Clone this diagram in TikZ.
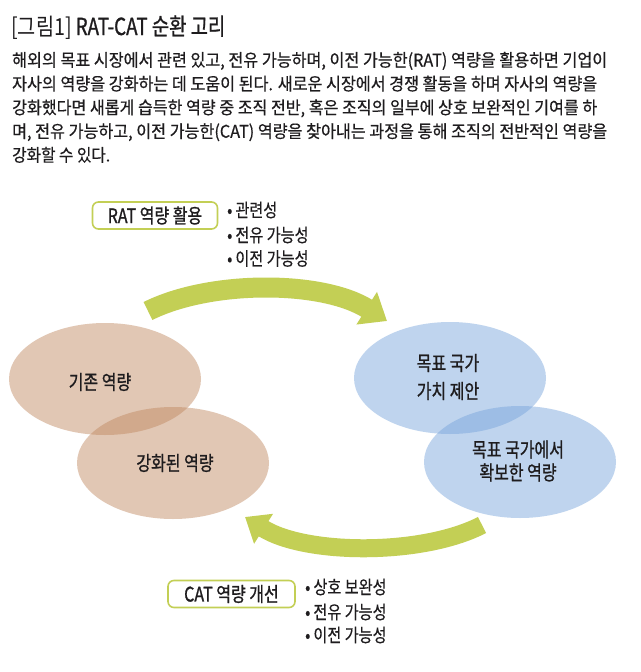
\documentclass[tikz,border=0pt]{standalone}
\usepackage{fontspec}
\usepackage{graphicx}
\usetikzlibrary{arrows.meta,shapes.geometric}
\newfontfamily\kr[FakeStretch=0.84]{Noto Sans CJK KR}
\newfontfamily\krb[FakeStretch=0.84,FakeBold=0.5]{Noto Sans CJK KR}
\newfontfamily\krm[FakeStretch=0.8,FakeBold=1]{Noto Sans CJK KR}
\newfontfamily\krl[FakeStretch=0.82,FakeBold=0.3]{Noto Sans CJK KR}
\newcommand{\fitln}[2]{\resizebox{#1}{\height}{#2}}
\definecolor{tanc}{RGB}{192,136,96}
\definecolor{skyc}{RGB}{120,165,220}
\definecolor{leaf}{RGB}{195,207,85}
\definecolor{ink}{RGB}{30,28,30}
\begin{document}
\begin{tikzpicture}[x=1pt,y=-1pt,
  bodyline/.style={anchor=base west, inner sep=0pt, font=\krb\fontsize{17.5}{18}\selectfont, text=ink},
  blob/.style={ellipse, draw=none, inner sep=0pt, minimum width=192pt, minimum height=112pt, fill opacity=0.47},
  blabel/.style={inner sep=0pt, align=center, text=ink, font=\krm\fontsize{20}{28}\selectfont},
  tagbox/.style={draw=leaf, line width=1.6pt, rounded corners=6pt, fill=white, inner sep=0pt,
    minimum height=27pt, text=ink, font=\krm\fontsize{20}{20}\selectfont},
  bullet/.style={anchor=west, inner sep=0pt, text=ink, font=\krl\fontsize{18.5}{20}\selectfont},
  bigarrow/.style={draw=leaf}
]
\useasboundingbox (0,0) rectangle (640,672);
\fill[white] (0,0) rectangle (640,672);

% title
\node[anchor=base west, inner sep=0pt, text=ink] (title) at (11,35)
  {\fontsize{23.5}{26}\selectfont{\kr [그림1]}\,{\krm RAT-CAT 순환 고리}};

% body text
\node[bodyline] (l1) at (12,66.5) {\fitln{595pt}{해외의 목표 시장에서 관련 있고, 전유 가능하며, 이전 가능한(RAT) 역량을 활용하면 기업이}};
\node[bodyline] (l2) at (12,90.25) {\fitln{585pt}{자사의 역량을 강화하는 데 도움이 된다. 새로운 시장에서 경쟁 활동을 하며 자사의 역량을}};
\node[bodyline] (l3) at (12,114) {\fitln{585pt}{강화했다면 새롭게 습득한 역량 중 조직 전반, 혹은 조직의 일부에 상호 보완적인 기여를 하}};
\node[bodyline] (l4) at (12,137.75) {\fitln{595pt}{며, 전유 가능하고, 이전 가능한(CAT) 역량을 찾아내는 과정을 통해 조직의 전반적인 역량을}};
\node[bodyline] (l5) at (12,161.5) {\fitln{98pt}{강화할 수 있다.}};

% ellipses
\node[blob, fill=tanc] (e1) at (105,379) {};
\node[blob, fill=tanc] (e2) at (173,463) {};
\node[blob, fill=skyc] (e3) at (450,378) {};
\node[blob, fill=skyc] (e4) at (520,462) {};

\node[blabel] (t1) at (100,382) {기존 역량};
\node[blabel] (t2) at (175,463) {강화된 역량};
\node[blabel] (t3) at (448,377) {목표 국가\\가치 제안};
\node[blabel, font=\krm\fontsize{20}{23}\selectfont] (t4) at (518,461) {목표 국가에서\\확보한 역량};

% arrows
\coordinate (ta) at (148,311);
\coordinate (tb) at (387,321);
\draw[bigarrow, line width=20pt, -{Triangle[length=24pt, width=37pt]}]
  (ta) .. controls (210,280) and (322,280) .. (tb);
\coordinate (ba) at (482,525);
\coordinate (bb) at (245,517);
\draw[bigarrow, line width=18pt, -{Triangle[length=22pt, width=34pt]}]
  (ba) .. controls (422,556) and (305,555) .. (bb);

% tag boxes
\node[tagbox, minimum width=125pt] (rat) at (155,215.5) {RAT 역량 활용};
\node[tagbox, minimum width=127pt] (cat) at (231.5,594) {CAT 역량 개선};

% bullets
\node[bullet] (r1) at (227,210) {•\,관련성};
\node[bullet] (r2) at (227,235) {•\,전유 가능성};
\node[bullet] (r3) at (227,258.5) {•\,이전 가능성};
\node[bullet] (c1) at (305,587) {•\,상호 보완성};
\node[bullet] (c2) at (305,612) {•\,전유 가능성};
\node[bullet] (c3) at (305,635) {•\,이전 가능성};
\end{tikzpicture}
\end{document}
